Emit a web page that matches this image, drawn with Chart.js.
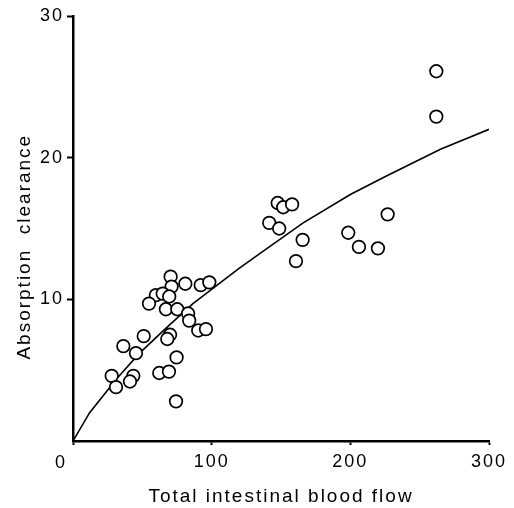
<!DOCTYPE html>
<html>
<head>
<meta charset="utf-8">
<script src="https://cdn.jsdelivr.net/npm/chart.js@4"></script>
<style>
  html, body { margin: 0; padding: 0; background: #fff; }
  #wrap { width: 514px; height: 508px; }
</style>
</head>
<body>
<div id="wrap"><canvas id="scatterChart" width="514" height="508"></canvas></div>
<script>
// measured points (total intestinal blood flow vs absorption clearance)
const flowValues = [
    262, 262, 147.6, 151.6, 158, 141.5, 148.7, 165.6, 160.8, 198.5, 206.2, 219.9, 226.9,
    70.4, 71.1, 81, 92.1, 98.3, 59.8, 64.7, 69.4, 54.8, 67, 75.2, 83, 83.8, 90.3, 95.9,
    51, 70, 68, 36.3, 45.4, 74.7, 27.9, 31, 43.5, 41.1, 62.2, 69.2, 74.3
];
const clearanceValues = [
    26.1, 22.9, 16.8, 16.5, 16.7, 15.4, 15.0, 14.2, 12.7, 14.7, 13.7, 13.6, 16.0,
    11.6, 10.9, 11.1, 11.0, 11.2, 10.3, 10.4, 10.2, 9.7, 9.3, 9.3, 9.0, 8.5, 7.8, 7.9,
    7.4, 7.5, 7.2, 6.7, 6.2, 5.9, 4.6, 3.8, 4.6, 4.2, 4.8, 4.9, 2.8
];

// fitted curve
const curveFlow = [0, 12, 31.5, 48, 67.5, 86.5, 120, 140, 166, 200, 226, 265, 300];
const curveClearance = [0, 2.0, 4.4, 6.2, 8.0, 9.7, 12.2, 13.6, 15.4, 17.4, 18.7, 20.6, 22.0];

const xTicks = [0, 100, 200, 300];
const yTicks = [10, 20, 30];

const FONT = "'Liberation Sans', Arial, sans-serif";

const points = flowValues.map((x, i) => ({ x, y: clearanceValues[i] }));
const curve = curveFlow.map((x, i) => ({ x, y: curveClearance[i] }));

// spread the letters a bit like the typewriter lettering of the figure
const spacingPlugin = {
    id: 'spacing',
    beforeDraw(chart) {
        chart.ctx.letterSpacing = '2px';
    },
    afterDraw(chart) {
        // origin label sits left of the corner in the original
        const ctx = chart.ctx;
        const xs = chart.scales.x;
        ctx.save();
        ctx.letterSpacing = '0px';
        ctx.fillStyle = '#000';
        ctx.font = `18px ${FONT}`;
        ctx.textAlign = 'center';
        ctx.textBaseline = 'middle';
        ctx.fillText('0', xs.getPixelForValue(xTicks[0]) - 13, chart.chartArea.bottom + 22);
        ctx.restore();
    }
};

new Chart(document.getElementById('scatterChart').getContext('2d'), {
    type: 'scatter',
    data: {
        datasets: [
            {
                label: 'Observed',
                data: points,
                pointRadius: 6.3,
                pointBorderWidth: 1.7,
                pointBackgroundColor: '#fff',
                pointBorderColor: '#000',
                showLine: false
            },
            {
                label: 'Model',
                data: curve,
                showLine: true,
                pointRadius: 0,
                borderColor: '#000',
                borderWidth: 1.6,
                tension: 0
            }
        ]
    },
    options: {
        responsive: false,
        animation: false,
        layout: { padding: { top: 16, right: 25, left: 0, bottom: 0 } },
        plugins: {
            legend: { display: false },
            tooltip: { enabled: false }
        },
        scales: {
            x: {
                type: 'linear',
                min: 0,
                max: 300,
                afterBuildTicks: s => { s.ticks = xTicks.map(v => ({ value: v })); },
                afterFit: s => { s.height = 67; },
                border: { color: '#000', width: 2.5 },
                grid: { display: true, drawOnChartArea: false, tickLength: 4, tickWidth: 2, tickColor: '#000' },
                ticks: {
                    color: '#000',
                    font: { family: FONT, size: 18 },
                    padding: 6,
                    maxRotation: 0,
                    callback: v => (v === 0 ? '' : String(v))
                },
                title: {
                    display: true,
                    text: 'Total intestinal blood flow',
                    color: '#000',
                    font: { family: FONT, size: 19 },
                    padding: 0
                }
            },
            y: {
                type: 'linear',
                min: 0,
                max: 30,
                afterBuildTicks: s => { s.ticks = yTicks.map(v => ({ value: v })); },
                afterFit: s => { s.width = 73; },
                border: { color: '#000', width: 2.5 },
                grid: { display: true, drawOnChartArea: false, tickLength: 6, tickWidth: 2, tickColor: '#000' },
                ticks: {
                    color: '#000',
                    font: { family: FONT, size: 18 },
                    padding: 3
                },
                title: {
                    display: true,
                    // trailing spaces shift the label down as in the original
                    text: 'Absorption  clearance     ',
                    color: '#000',
                    font: { family: FONT, size: 19 },
                    padding: 13
                }
            }
        }
    },
    plugins: [spacingPlugin]
});
</script>
</body>
</html>
